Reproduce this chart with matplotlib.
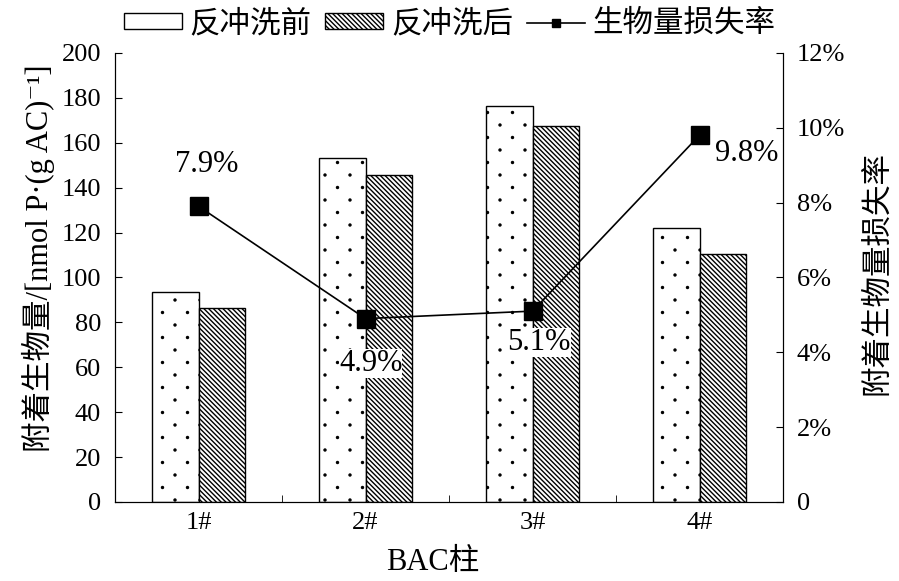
import matplotlib
matplotlib.use("Agg")
import matplotlib.pyplot as plt
import matplotlib.hatch as mhatch
import numpy as np
from matplotlib.path import Path
from matplotlib.patches import Patch
from matplotlib.lines import Line2D

plt.rcParams['font.family'] = ['Liberation Serif', 'Noto Sans CJK SC', 'DejaVu Serif']
plt.rcParams['hatch.linewidth'] = 1.0
plt.rcParams['axes.unicode_minus'] = False


class SparseDots(mhatch.HatchPatternBase):
    """Staggered dot texture: 8 rows and 4 dots per row in each hatch cell."""
    rows = 8
    cols = 4
    radius = 0.01

    def __init__(self, hatch, density):
        self.n = hatch.count('.')
        circle = Path.unit_circle()
        self.shape_vertices = circle.vertices * self.radius
        self.shape_codes = circle.codes
        if self.n == 0:
            self.num_vertices = 0
            return
        verts, codes = [], []
        for r in range(self.rows + 1):
            y = r / self.rows
            if r % 2 == 0:
                xs = np.linspace(0, 1, self.cols + 1)
            else:
                xs = np.arange(self.cols) / self.cols + 0.5 / self.cols
            for xv in xs:
                verts.append(self.shape_vertices + [xv, y])
                codes.append(self.shape_codes)
        self._verts = np.concatenate(verts)
        self._codes = np.concatenate(codes)
        self.num_vertices = len(self._verts)

    def set_vertices_and_codes(self, vertices, codes):
        vertices[:] = self._verts
        codes[:] = self._codes


for i, h in enumerate(mhatch._hatch_types):
    if h is mhatch.SmallFilledCircles:
        mhatch._hatch_types[i] = SparseDots

categories = ['1#', '2#', '3#', '4#']
before = [93.7, 153.0, 176.5, 122.2]
after = [86.2, 145.6, 167.6, 110.3]
loss_rate = [7.9, 4.9, 5.1, 9.8]
loss_labels = ['7.9%', '4.9%', '5.1%', '9.8%']

TICK_FS = 19
LABEL_FS = 22
DIAG = '\\' * 7

fig = plt.figure(figsize=(8.99, 5.81), dpi=100)
ax = fig.add_axes([0.128, 0.136, 0.743, 0.773])

x = np.arange(len(categories))
w = 0.28
ax.bar(x - w / 2, before, w, facecolor='white', edgecolor='black', hatch='.', linewidth=1.0)
ax.bar(x + w / 2, after, w, facecolor='white', edgecolor='black', hatch=DIAG, linewidth=1.0)

ax.set_xlim(-0.5, 3.5)
ax.set_ylim(0, 200)
ax.set_yticks(np.arange(0, 201, 20))
ax.set_xticks(x)
ax.set_xticklabels(categories)
ax.set_xticks([0.5, 1.5, 2.5], minor=True)
ax.tick_params(axis='x', which='major', length=0, labelsize=TICK_FS, pad=7)
ax.tick_params(axis='x', which='minor', direction='in', length=5)
ax.tick_params(axis='y', direction='in', length=5, labelsize=TICK_FS, pad=10)
ax.spines['top'].set_visible(False)
ax.set_xlabel('BAC柱', fontsize=LABEL_FS, labelpad=10)
ax.xaxis.label.set_x(0.475)
ax.set_ylabel('附着生物量/[nmol P·(g AC)⁻¹]', fontsize=LABEL_FS, labelpad=5)
ax.yaxis.label.set_y(0.542)

ax2 = ax.twinx()
ax2.set_ylim(0, 12)
ax2.set_yticks(np.arange(0, 13, 2))
ax2.set_yticklabels(['0'] + [f'{v}%' for v in range(2, 13, 2)])
ax2.tick_params(axis='y', direction='in', length=5, labelsize=TICK_FS, pad=10)
ax2.spines['top'].set_visible(False)
ax2.set_ylabel('附着生物量损失率', fontsize=LABEL_FS, labelpad=13)
ax2.yaxis.label.set_y(0.51)
ax2.plot(x, loss_rate, color='black', linewidth=1.2, marker='s', markersize=13.5)

offsets = [(0.05, 1.12), (0.03, -1.2), (0.04, -0.85), (0.28, -0.5)]
for xi, yi, lab, (dx, dy) in zip(x, loss_rate, loss_labels, offsets):
    ax2.text(xi + dx, yi + dy, lab, fontsize=LABEL_FS, ha='center', va='center',
             bbox=dict(facecolor='white', edgecolor='none', pad=0))

handles = [
    Patch(facecolor='white', edgecolor='black', linewidth=1.0),
    Patch(facecolor='white', edgecolor='black', hatch=DIAG, linewidth=1.0),
    Line2D([], [], color='black', linewidth=1.2, marker='s', markersize=6),
]
fig.legend(handles, ['反冲洗前', '反冲洗后', '生物量损失率'], loc='center',
           bbox_to_anchor=(0.5, 0.958), ncol=3, frameon=False, fontsize=LABEL_FS,
           handlelength=1.9, handleheight=0.4, handletextpad=0.25, columnspacing=0.45,
           borderpad=0)

fig.savefig('out.png', dpi=100)
